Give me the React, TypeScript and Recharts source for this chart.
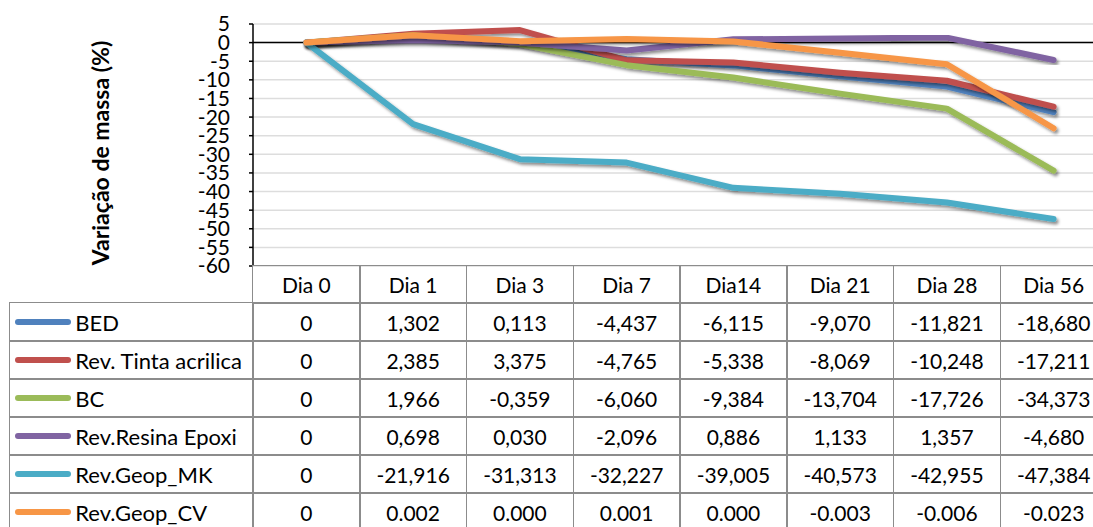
import { LineChart, Line, XAxis, YAxis, CartesianGrid, ReferenceLine } from "recharts";

const days = ["Dia 0", "Dia 1", "Dia 3", "Dia 7", "Dia14", "Dia 21", "Dia 28", "Dia 56"];

const bed = [0, 1.302, 0.113, -4.437, -6.115, -9.07, -11.821, -18.68];
const tinta = [0, 2.385, 3.375, -4.765, -5.338, -8.069, -10.248, -17.211];
const bc = [0, 1.966, -0.359, -6.06, -9.384, -13.704, -17.726, -34.373];
const epoxi = [0, 0.698, 0.03, -2.096, 0.886, 1.133, 1.357, -4.68];
const geopMk = [0, -21.916, -31.313, -32.227, -39.005, -40.573, -42.955, -47.384];
// plotted values of the CV series
const geopCv = [0, 2, 0.4, 1, 0.3, -2.7, -5.8, -23];
// the table shows the CV row in another unit
const geopCvText = ["0", "0.002", "0.000", "0.001", "0.000", "-0.003", "-0.006", "-0.023"];

const yTicks = [5, 0, -5, -10, -15, -20, -25, -30, -35, -40, -45, -50, -55, -60];

const series = [
  { key: "bed", name: "BED", values: bed, color: "#4F81BD" },
  { key: "tinta", name: "Rev. Tinta acrilica", values: tinta, color: "#C0504D" },
  { key: "bc", name: "BC", values: bc, color: "#9BBB59" },
  { key: "epoxi", name: "Rev.Resina Epoxi", values: epoxi, color: "#8064A2" },
  { key: "mk", name: "Rev.Geop_MK", values: geopMk, color: "#4BACC6" },
  { key: "cv", name: "Rev.Geop_CV", values: geopCv, color: "#F79646" },
];

const rows = days.map((day, i) => {
  const row: Record<string, string | number> = { day };
  series.forEach((s) => {
    row[s.key] = s.values[i];
  });
  return row;
});

const fmt = (v: number) => (v === 0 ? "0" : v.toFixed(3).replace(".", ","));

const FONT = "Lato, 'Open Sans', sans-serif";
const BORDER = "#8C8C8C";
const PLOT_LEFT = 253;
const COL_W = 106.75;
const HEAD_TOP = 266;
const HEAD_H = 37;
const ROW_H = 38;
const TABLE_LEFT = 10;

export default function App() {
  const cell = (left: number, top: number, width: number, height: number) => ({
    position: "absolute" as const,
    left,
    top,
    width,
    height,
    boxSizing: "border-box" as const,
    border: `1.5px solid ${BORDER}`,
    marginLeft: -0.75,
    marginTop: -0.75,
    display: "flex",
    alignItems: "center",
    justifyContent: "center",
    fontSize: 21,
    color: "#000",
    whiteSpace: "nowrap" as const,
  });

  return (
    <div
      style={{
        position: "absolute",
        left: 0,
        top: 0,
        width: 1093,
        height: 527,
        overflow: "hidden",
        background: "#fff",
        fontFamily: FONT,
      }}
    >
      <div style={{ position: "absolute", left: 0, top: 0 }}>
        <LineChart
          width={1110}
          height={290}
          data={rows}
          margin={{ top: 24, right: 3, left: 0, bottom: 24 }}
        >
          <defs>
            <filter id="shadow" x="-10%" y="-10%" width="130%" height="130%">
              <feDropShadow dx="2" dy="2.5" stdDeviation="1.6" floodColor="#000" floodOpacity="0.45" />
            </filter>
          </defs>
          <CartesianGrid vertical={false} stroke="#DDDDDD" strokeWidth={1.5} />
          <XAxis dataKey="day" hide padding={{ left: COL_W / 2, right: COL_W / 2 }} />
          <YAxis
            width={PLOT_LEFT}
            domain={[-60, 5]}
            ticks={yTicks}
            interval={0}
            tickSize={4}
            tickMargin={19}
            axisLine={{ stroke: "#000", strokeWidth: 1.5 }}
            tickLine={{ stroke: "#000", strokeWidth: 1.5 }}
            tick={{ fill: "#000", fontSize: 21, fontFamily: FONT }}
          />
          <ReferenceLine y={0} stroke="#000" strokeWidth={1.5} />
          {series.map((s) => (
            <Line
              key={s.key}
              dataKey={s.key}
              stroke={s.color}
              strokeWidth={6}
              strokeLinecap="round"
              strokeLinejoin="round"
              dot={false}
              activeDot={false}
              filter="url(#shadow)"
              isAnimationActive={false}
            />
          ))}
        </LineChart>
      </div>

      <div
        style={{
          position: "absolute",
          left: 100,
          top: 153,
          transform: "translate(-50%, -50%) rotate(-90deg)",
          fontSize: 23,
          fontWeight: 700,
          whiteSpace: "nowrap",
          color: "#000",
        }}
      >
        Variação de massa (%)
      </div>

      {days.map((d, i) => (
        <div key={d} style={cell(PLOT_LEFT + i * COL_W, HEAD_TOP, COL_W + 1.5, HEAD_H + 1.5)}>
          {d}
        </div>
      ))}

      {series.map((s, r) => {
        const top = HEAD_TOP + HEAD_H + r * ROW_H;
        return (
          <div key={s.key}>
            <div
              style={{
                ...cell(TABLE_LEFT, top, PLOT_LEFT - TABLE_LEFT + 1.5, ROW_H + 1.5),
                justifyContent: "flex-start",
                fontSize: 22,
              }}
            >
              <span
                style={{
                  display: "inline-block",
                  width: 56,
                  height: 6,
                  borderRadius: 3,
                  background: s.color,
                  marginLeft: 5,
                  marginRight: 4,
                  flexShrink: 0,
                }}
              />
              {s.name}
            </div>
            {s.values.map((v, i) => (
              <div key={i} style={cell(PLOT_LEFT + i * COL_W, top, COL_W + 1.5, ROW_H + 1.5)}>
                {s.key === "cv" ? geopCvText[i] : fmt(v)}
              </div>
            ))}
          </div>
        );
      })}
    </div>
  );
}
